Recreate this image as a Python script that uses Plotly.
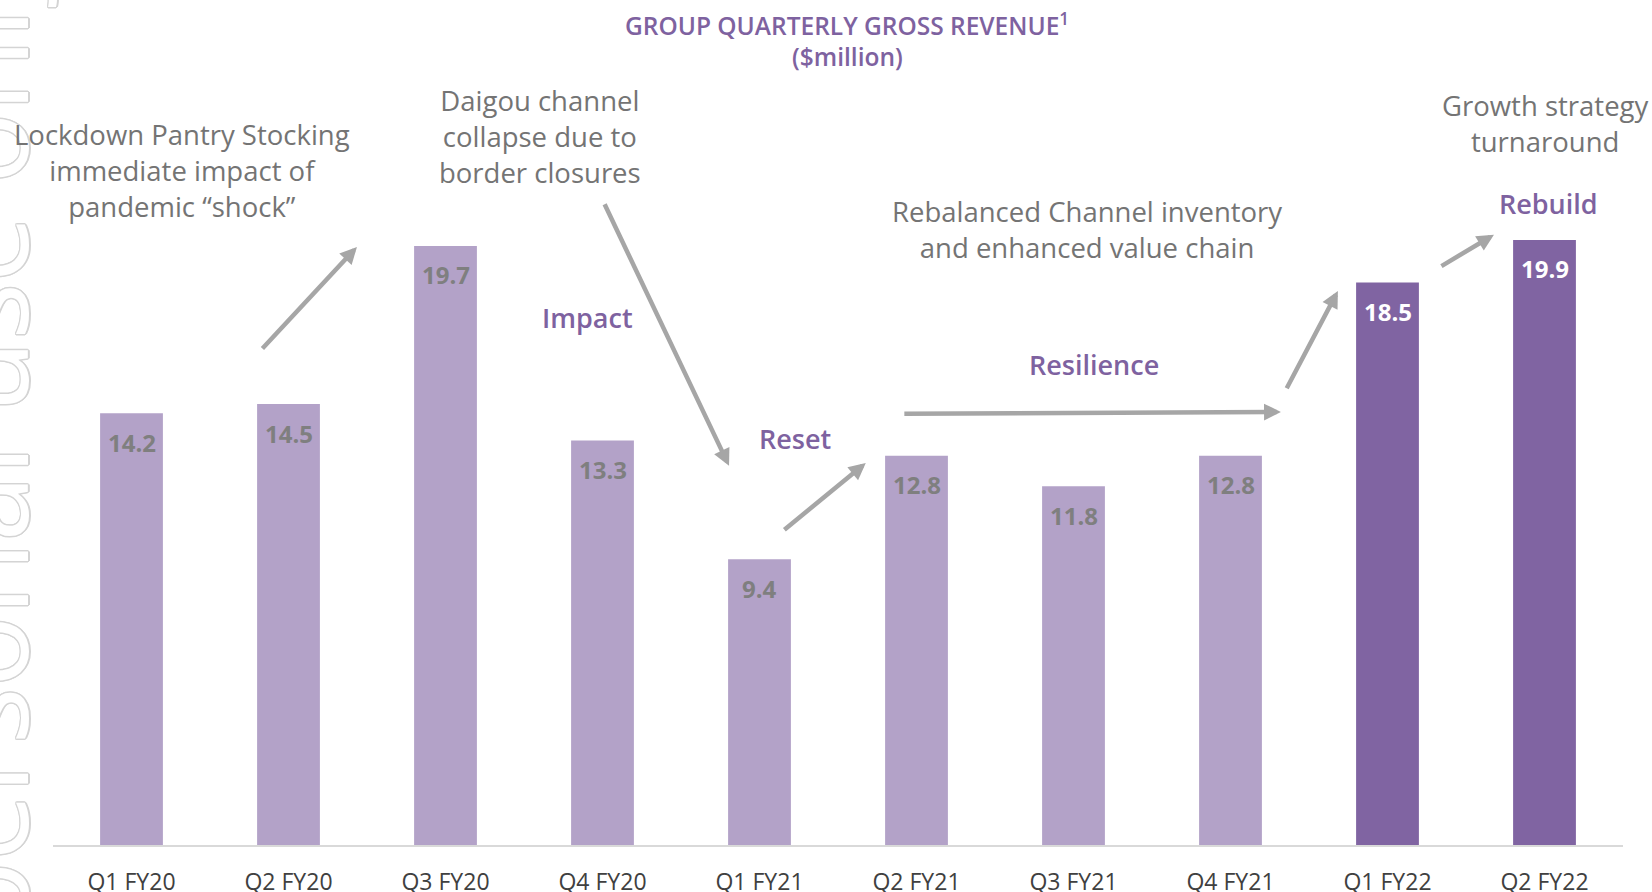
import plotly.graph_objects as go

# ---- data ----
quarters = ["Q1 FY20", "Q2 FY20", "Q3 FY20", "Q4 FY20", "Q1 FY21",
            "Q2 FY21", "Q3 FY21", "Q4 FY21", "Q1 FY22", "Q2 FY22"]
revenue = [14.2, 14.5, 19.7, 13.3, 9.4, 12.8, 11.8, 12.8, 18.5, 19.9]
highlighted = ["Q1 FY22", "Q2 FY22"]

title_text = "GROUP QUARTERLY GROSS REVENUE<sup>1</sup>"
subtitle_text = "($million)"
watermark_text = "For personal use only"

LIGHT = "#B3A2C8"
DARK = "#8064A2"
PURPLE_TXT = "#7E62A0"
GRAY_TXT = "#747474"
ARROW = "#A6A6A6"
WM = "#D4D4D4"

colors = [DARK if q in highlighted else LIGHT for q in quarters]

fig = go.Figure()
fig.add_trace(go.Bar(
    x=quarters, y=revenue, marker=dict(color=colors, line=dict(width=0)),
    width=0.40, hoverinfo="skip", showlegend=False,
))

ann = []
# faint outlined watermark at the left edge
shadow = ", ".join(f"{dx}px {dy}px 0 {WM}" for dx, dy in
                   [(-1.5, 0), (1.5, 0), (0, -1.5), (0, 1.5),
                    (-1, -1), (1, -1), (-1, 1), (1, 1)])
ann.append(dict(x=0.0077, y=1.096, xref="paper", yref="paper", text=watermark_text,
                showarrow=False, textangle=-90, xanchor="right", yanchor="top",
                font=dict(family="Open Sans", size=120, color="#FFFFFF", shadow=shadow)))

# value labels
for q, v in zip(quarters, revenue):
    ann.append(dict(
        x=q, y=v, xref="x", yref="y", text=f"{v:.1f}", showarrow=False,
        yanchor="middle", yshift=-29,
        font=dict(family="Open Sans", size=24, weight="bold",
                  color="#FFFFFF" if q in highlighted else "#7F7F7F"),
    ))

# title
ann.append(dict(x=0.506, y=1.0, xref="paper", yref="paper", text=title_text,
                showarrow=False, yanchor="middle",
                font=dict(family="Open Sans", size=24.5, weight=600, color=PURPLE_TXT)))
ann.append(dict(x=0.506, y=0.96, xref="paper", yref="paper", text=subtitle_text,
                showarrow=False, yanchor="middle",
                font=dict(family="Open Sans", size=24.5, weight=600, color=PURPLE_TXT)))

gray_notes = [
    (0.321, 22.17, "Lockdown Pantry Stocking<br>immediate impact of<br>pandemic \u201cshock\u201d"),
    (2.60, 23.29, "Daigou channel<br>collapse due to<br>border closures"),
    (6.086, 20.23, "Rebalanced Channel inventory<br>and enhanced value chain"),
    (9.009, 23.72, "Growth strategy<br>turnaround"),
]
for x, y, t in gray_notes:
    ann.append(dict(x=x, y=y, xref="x", yref="y", text=t, showarrow=False,
                    xanchor="center", yanchor="middle", align="center",
                    font=dict(family="Open Sans", size=27.5, weight=500, color=GRAY_TXT)))

purple_notes = [
    (2.907, 17.34, "Impact"),
    (4.226, 13.36, "Reset"),
    (6.130, 15.79, "Resilience"),
    (9.028, 21.09, "Rebuild"),
]
for x, y, t in purple_notes:
    ann.append(dict(x=x, y=y, xref="x", yref="y", text=t, showarrow=False,
                    xanchor="center", yanchor="middle",
                    font=dict(family="Open Sans", size=27, weight=600, color=PURPLE_TXT)))

# arrows: (tail x, tail y, head x, head y) in data coordinates
arrows = [
    (0.825, 16.28, 1.436, 19.67),
    (3.009, 21.12, 3.806, 12.47),
    (4.149, 10.33, 4.677, 12.56),
    (4.913, 14.18, 7.321, 14.24),
    (7.353, 14.97, 7.684, 18.22),
    (8.334, 19.01, 8.678, 20.07),
]
for tx, ty, hx, hy in arrows:
    ann.append(dict(x=hx, y=hy, ax=tx, ay=ty, xref="x", yref="y", axref="x", ayref="y",
                    text="", showarrow=True, arrowhead=2, arrowsize=0.75,
                    arrowwidth=4.5, arrowcolor=ARROW, standoff=0, startstandoff=0))

fig.update_layout(
    width=1652, height=892,
    margin=dict(l=53, r=29, t=24, b=47),
    paper_bgcolor="white", plot_bgcolor="white",
    bargap=0.6,
    annotations=ann,
    xaxis=dict(type="category", range=[-0.5, 9.5], showgrid=False, zeroline=False,
               showline=True, linecolor="#D9D9D9", linewidth=2, ticks="",
               tickfont=dict(family="Open Sans", size=23, color="#404040"),
               ticklabelstandoff=15, automargin=False, fixedrange=True),
    yaxis=dict(range=[0, 27.0], visible=False, showgrid=False, zeroline=False,
               fixedrange=True),
)

fig.write_html("out.html", config={"displayModeBar": False},
               post_script="document.body.style.margin='0';document.body.style.overflow='hidden';")
